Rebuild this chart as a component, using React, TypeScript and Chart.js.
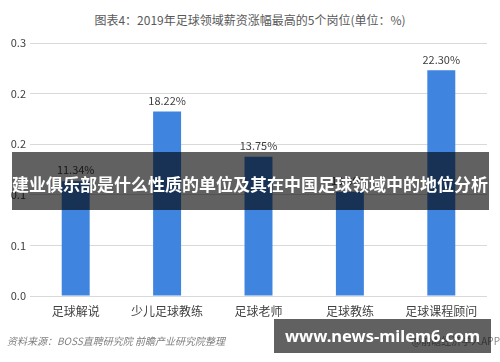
import React, { useEffect, useRef } from "react";
import { Chart, registerables } from "chart.js";

Chart.register(...registerables);

const titleText = "图表4：2019年足球领域薪资涨幅最高的5个岗位(单位：%)";
const categories = ["足球解说", "少儿足球教练", "足球老师", "足球教练", "足球课程顾问"];
const values = [0.1134, 0.1822, 0.1375, 0.103, 0.223];
const valueLabels = ["11.34%", "18.22%", "13.75%", "10.30%", "22.30%"];
const yTickLabels = ["0.0", "0.1", "0.1", "0.2", "0.2", "0.3"];
const sourceText = "资料来源：BOSS直聘研究院 前瞻产业研究院整理";
const copyrightText = "@前瞻经济学人APP";
const overlayHeadline = "建业俱乐部是什么性质的单位及其在中国足球领域中的地位分析";
const overlayUrl = "www.news-milem6.com";

const FONT = "'Noto Sans CJK SC', 'Noto Sans', sans-serif";

const valueLabelPlugin = {
  id: "valueLabels",
  afterDatasetsDraw(chart: any) {
    const ctx = chart.ctx;
    const meta = chart.getDatasetMeta(0);
    ctx.save();
    ctx.font = `11px ${FONT}`;
    ctx.fillStyle = "#404040";
    ctx.textAlign = "center";
    ctx.textBaseline = "middle";
    meta.data.forEach((bar: any, i: number) => {
      ctx.fillText(valueLabels[i], bar.x, bar.y - 11);
    });
    ctx.restore();
  },
};

function BarChart() {
  const ref = useRef<HTMLCanvasElement>(null);
  useEffect(() => {
    if (!ref.current) return;
    const chart = new Chart(ref.current, {
      type: "bar",
      data: {
        labels: categories,
        datasets: [
          {
            data: values,
            backgroundColor: "#3F85E0",
            borderWidth: 0,
            barPercentage: 0.6,
            categoryPercentage: 0.51,
          },
        ],
      },
      options: {
        animation: false,
        responsive: false,
        maintainAspectRatio: false,
        layout: { padding: { top: 43, right: 13, left: 0, bottom: 0 } },
        plugins: {
          legend: { display: false },
          tooltip: { enabled: false },
          title: { display: false },
        },
        scales: {
          x: {
            grid: { display: false, drawTicks: false },
            border: { display: false },
            ticks: {
              color: "#404040",
              font: { size: 12, family: FONT },
              padding: 8,
              maxRotation: 0,
            },
            afterFit(scale: any) {
              scale.height = 66;
            },
          },
          y: {
            min: 0,
            max: 0.25,
            grid: { color: "#D9D9D9", drawTicks: false, lineWidth: 1 },
            border: { display: false },
            ticks: {
              stepSize: 0.05,
              color: "#404040",
              font: { size: 11, family: FONT },
              padding: 4,
              callback: (_v: any, i: number) => yTickLabels[i],
            },
            afterFit(scale: any) {
              scale.width = 30;
            },
          },
        },
      },
      plugins: [valueLabelPlugin],
    });
    return () => chart.destroy();
  }, []);
  return <canvas ref={ref} width={500} height={362} style={{ position: "absolute", left: 0, top: 0 }} />;
}

export default function App() {
  return (
    <div
      style={{
        position: "fixed",
        left: 0,
        top: 0,
        width: 500,
        height: 362,
        background: "#fff",
        overflow: "hidden",
        fontFamily: FONT,
      }}
    >
      <div
        style={{
          position: "absolute",
          left: 0,
          top: 11,
          width: 500,
          textAlign: "center",
          fontSize: 12,
          color: "#595959",
          whiteSpace: "nowrap",
        }}
      >
        {titleText}
      </div>
      <BarChart />
      <div
        style={{
          position: "absolute",
          left: 7,
          top: 333,
          fontSize: 10,
          fontStyle: "italic",
          color: "#7F7F7F",
          whiteSpace: "nowrap",
        }}
      >
        {sourceText}
      </div>
      <div
        style={{
          position: "absolute",
          right: 0,
          top: 333,
          fontSize: 10,
          color: "#8C8C8C",
          whiteSpace: "nowrap",
        }}
      >
        {copyrightText}
      </div>
      <div
        style={{
          position: "absolute",
          left: 12,
          top: 152,
          width: 477,
          height: 58,
          background: "rgba(0,0,0,0.62)",
        }}
      />
      <div
        style={{
          position: "absolute",
          left: 0,
          top: 172,
          width: 500,
          textAlign: "center",
          fontSize: 17,
          lineHeight: "24px",
          fontWeight: 700,
          color: "#fff",
          whiteSpace: "nowrap",
        }}
      >
        {overlayHeadline}
      </div>
      <div
        style={{
          position: "absolute",
          left: 274,
          top: 319,
          width: 217,
          height: 34,
          background: "rgba(0,0,0,0.62)",
          color: "#fff",
          fontFamily: "'Noto Sans', sans-serif",
          fontWeight: 700,
          fontSize: 16.5,
          lineHeight: "34px",
          textAlign: "center",
          whiteSpace: "nowrap",
        }}
      >
        {overlayUrl}
      </div>
    </div>
  );
}
